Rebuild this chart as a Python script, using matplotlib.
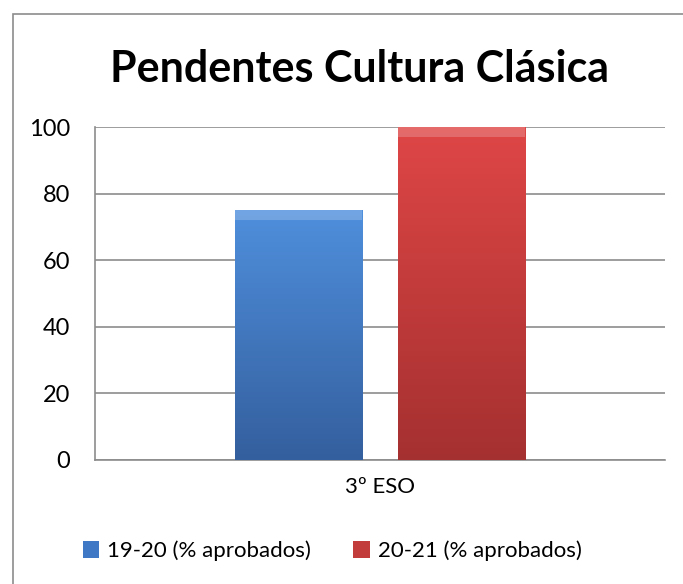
import numpy as np
import matplotlib.pyplot as plt
from matplotlib.patches import Rectangle, Patch
from matplotlib.colors import LinearSegmentedColormap

categories = ["3º ESO"]
series_names = ["19-20 (% aprobados)", "20-21 (% aprobados)"]
series_values = [[75], [100]]
yticks = [0, 20, 40, 60, 80, 100]
title = "Pendentes Cultura Clásica"

top_colors = ["#4f8fdc", "#df4646"]
bot_colors = ["#345f9e", "#a53030"]
mid_colors = ["#3f78c4", "#c23c3c"]

W, H = 683, 584
fig = plt.figure(figsize=(W / 100, H / 100), dpi=100)
plt.rcParams['font.family'] = ['Lato', 'DejaVu Sans']

# figure border (left & top visible)
fig.patches.append(Rectangle((13 / W, -0.1), 1.2, 1 - 14 / H + 0.1,
                             transform=fig.transFigure, fill=False,
                             edgecolor="#8c8c8c", linewidth=1.2))

ax = fig.add_axes([95 / W, 1 - 460 / H, 570 / W, 333 / H])
ax.set_xlim(0, 1)
ax.set_ylim(0, 100)
ax.set_yticks(yticks)
ax.tick_params(axis='y', length=0, labelsize=17, pad=18)
ax.set_xticks([0.5])
ax.set_xticklabels(categories, fontsize=16)
ax.tick_params(axis='x', length=0, pad=12)
for s in ["top", "right"]:
    ax.spines[s].set_visible(False)
for s in ["left", "bottom"]:
    ax.spines[s].set_color("#8c8c8c")
    ax.spines[s].set_linewidth(1.2)
ax.yaxis.grid(True, color="#8c8c8c", linewidth=1.2)
ax.set_axisbelow(True)

width = 0.223
offsets = [-0.143, 0.143]
handles = []
for i, (name, vals) in enumerate(zip(series_names, series_values)):
    bars = ax.bar([0.5 + offsets[i]], vals, width=width, color=mid_colors[i],
                  edgecolor="none", zorder=2)
    cmap = LinearSegmentedColormap.from_list("g%d" % i, [bot_colors[i], top_colors[i]])
    for b in bars:
        x0, y0 = b.get_x(), b.get_y()
        w, h = b.get_width(), b.get_height()
        grad = np.linspace(0, 1, 256).reshape(-1, 1)
        im = ax.imshow(grad, extent=(x0, x0 + w, y0, y0 + h), origin='lower',
                       cmap=cmap, aspect='auto', zorder=3)
        im.set_clip_path(b)
        # top bevel highlight
        ax.add_patch(Rectangle((x0, y0 + h - 3), w, 3, color="white",
                               alpha=0.2, zorder=4, linewidth=0))
    handles.append(Patch(facecolor=mid_colors[i], edgecolor="none", label=name))

ax.set_xlim(0, 1)
ax.set_ylim(0, 100)

fig.text(360 / W, 1 - 82 / H, title, ha='center', va='baseline',
         fontsize=31, fontweight='bold')

fig.legend(handles=handles, loc='center', bbox_to_anchor=(332 / W, 1 - 551 / H),
           ncol=2, frameon=False, fontsize=16, handlelength=0.75, handleheight=0.75,
           handletextpad=0.35, columnspacing=1.9)

fig.savefig("out.png", dpi=100)
